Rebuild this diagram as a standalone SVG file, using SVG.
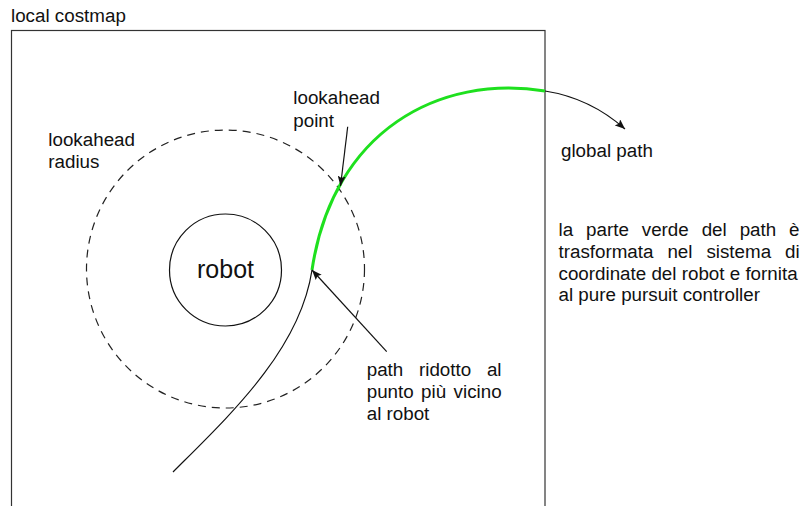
<svg xmlns="http://www.w3.org/2000/svg" width="801" height="506" viewBox="0 0 801 506">
<style>
text{font-family:"Liberation Sans",Arial,Helvetica,sans-serif;font-size:18.8px;fill:#111}
.ln{fill:none;stroke:#111;stroke-width:1.2}
</style>
<defs>
<marker id="ah" viewBox="0 0 10 8" refX="10" refY="4" markerWidth="10" markerHeight="8" markerUnits="userSpaceOnUse" orient="auto">
<path d="M0,0 L10,4 L0,8 L2,4 Z" fill="#111"/>
</marker>
</defs>
<rect width="801" height="506" fill="#fff"/>
<g id="costmap">
<rect x="11.5" y="30.5" width="533.5" height="500" fill="none" stroke="#333" stroke-width="1.2"/>
<text x="11" y="21.5">local costmap</text>
</g>
<g id="lookahead-radius">
<circle cx="225.5" cy="269" r="139" fill="none" stroke="#222" stroke-width="1.2" stroke-dasharray="8,6"/>
<text x="48.3" y="146">lookahead</text>
<text x="48.3" y="168.3">radius</text>
</g>
<g id="robot">
<circle cx="225.5" cy="270" r="56" fill="none" stroke="#111" stroke-width="1.2"/>
<text x="225.5" y="278.3" text-anchor="middle" style="font-size:25px">robot</text>
</g>
<g id="connectors">
<path class="ln" d="M173,472 C230,415 300,350 312,270"/>
<path d="M312,270 C333,130 440,74 545,91" fill="none" stroke="#1ee01e" stroke-width="3"/>
<path class="ln" d="M545,91 Q590,98 625,129" marker-end="url(#ah)"/>
<line class="ln" x1="347.7" y1="126.7" x2="340.5" y2="186" marker-end="url(#ah)"/>
<line class="ln" x1="386.7" y1="351.7" x2="312" y2="270" marker-end="url(#ah)"/>
</g>
<g id="lookahead-point">
<text x="293.3" y="104.3">lookahead</text>
<text x="293.3" y="126.5">point</text>
</g>
<g id="global-path">
<text x="561" y="157.3">global path</text>
</g>
<g id="path-ridotto">
<text x="366.7" y="376" word-spacing="10.5">path ridotto al</text>
<text x="366.7" y="398" word-spacing="2.2">punto più vicino</text>
<text x="366.7" y="420">al robot</text>
</g>
<g id="note">
<text x="558.5" y="236" word-spacing="7.7">la parte verde del path è</text>
<text x="558.5" y="258" word-spacing="8.7">trasformata nel sistema di</text>
<text x="558.5" y="279.5">coordinate del robot e fornita</text>
<text x="558.5" y="301">al pure pursuit controller</text>
</g>
</svg>
